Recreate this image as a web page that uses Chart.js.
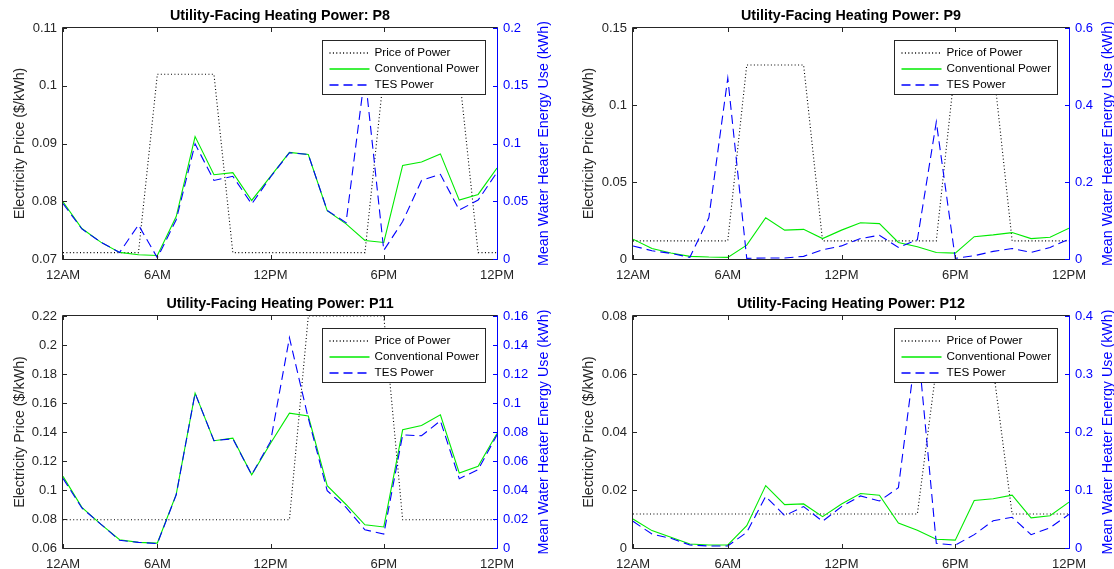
<!DOCTYPE html>
<html>
<head>
<meta charset="utf-8">
<script src="https://cdn.jsdelivr.net/npm/chart.js@4.4.0/dist/chart.umd.min.js"></script>
<style>
    body { margin: 0; background: #fff; }
    #fig { position: relative; width: 1114px; height: 569px; overflow: hidden; }
    canvas { position: absolute; }
</style>
</head>
<body>
<div id="fig">
    <canvas id="p8" width="557" height="285" style="left:0;top:0"></canvas>
    <canvas id="p9" width="557" height="285" style="left:557px;top:0"></canvas>
    <canvas id="p11" width="557" height="284" style="left:0;top:285px"></canvas>
    <canvas id="p12" width="557" height="284" style="left:557px;top:285px"></canvas>
</div>
<script>
// Hour index of each sample (1 = 12AM ... 24 = 12PM of the next half day)
const hours = [1, 2, 3, 4, 5, 6, 7, 8, 9, 10, 11, 12, 13, 14, 15, 16, 17, 18, 19, 20, 21, 22, 23, 24];
const hourTicks = [1, 6, 12, 18, 24];
const hourLabels = ['12AM', '6AM', '12PM', '6PM', '12PM'];

const seriesNames = ['Price of Power', 'Conventional Power', 'TES Power'];
const priceTitle = 'Electricity Price ($/kWh)';
const energyTitle = 'Mean Water Heater Energy Use (kWh)';

// P8
const p8Price = [0.0711, 0.0711, 0.0711, 0.0711, 0.0711, 0.102, 0.102, 0.102, 0.102, 0.0711, 0.0711, 0.0711,
    0.0711, 0.0711, 0.0711, 0.0711, 0.0711, 0.102, 0.102, 0.102, 0.102, 0.102, 0.0711, 0.0711];
const p8Conventional = [0.0496, 0.0264, 0.0146, 0.0057, 0.0037, 0.003, 0.0367, 0.106, 0.073, 0.0748, 0.0507, 0.0716,
    0.0923, 0.0905, 0.0418, 0.0304, 0.016, 0.0143, 0.081, 0.084, 0.091, 0.051, 0.0559, 0.0788];
const p8Tes = [0.048, 0.026, 0.0146, 0.0057, 0.0295, 0.001, 0.034, 0.0997, 0.068, 0.0716, 0.0476, 0.071,
    0.092, 0.0905, 0.042, 0.0315, 0.16, 0.0075, 0.0324, 0.068, 0.0733, 0.0424, 0.051, 0.075];
const p8PriceTicks = [0.07, 0.08, 0.09, 0.1, 0.11];
const p8EnergyTicks = [0, 0.05, 0.1, 0.15, 0.2];

// P9
const p9Price = [0.0118, 0.0118, 0.0118, 0.0118, 0.0118, 0.0118, 0.126, 0.126, 0.126, 0.126, 0.0118, 0.0118,
    0.0118, 0.0118, 0.0118, 0.0118, 0.0118, 0.126, 0.126, 0.126, 0.0118, 0.0118, 0.0118, 0.0118];
const p9Conventional = [0.0514, 0.0274, 0.0154, 0.0069, 0.005, 0.0043, 0.036, 0.107, 0.075, 0.077, 0.053, 0.075,
    0.094, 0.092, 0.043, 0.032, 0.017, 0.0154, 0.058, 0.0626, 0.0686, 0.053, 0.0566, 0.08];
const p9Tes = [0.034, 0.0214, 0.0146, 0.0043, 0.107, 0.47, 0.0017, 0.0026, 0.0026, 0.0069, 0.024, 0.034,
    0.053, 0.0617, 0.03, 0.05, 0.356, 0.0017, 0.0086, 0.0197, 0.0274, 0.017, 0.03, 0.0514];
const p9PriceTicks = [0, 0.05, 0.1, 0.15];
const p9EnergyTicks = [0, 0.2, 0.4, 0.6];

// P11
const p11Price = [0.0795, 0.0795, 0.0795, 0.0795, 0.0795, 0.0795, 0.0795, 0.0795, 0.0795, 0.0795, 0.0795, 0.0795,
    0.0795, 0.22, 0.22, 0.22, 0.22, 0.22, 0.0795, 0.0795, 0.0795, 0.0795, 0.0795, 0.0795];
const p11Conventional = [0.0494, 0.028, 0.0165, 0.0057, 0.0039, 0.0034, 0.037, 0.1068, 0.074, 0.0758, 0.0505, 0.0723,
    0.093, 0.091, 0.043, 0.03, 0.016, 0.0145, 0.0815, 0.0845, 0.0918, 0.0517, 0.0563, 0.079];
const p11Tes = [0.048, 0.0276, 0.0165, 0.0053, 0.0039, 0.003, 0.0367, 0.1068, 0.074, 0.0753, 0.0505, 0.0735,
    0.145, 0.0895, 0.0395, 0.028, 0.0126, 0.0096, 0.078, 0.0774, 0.0877, 0.0478, 0.054, 0.078];
const p11PriceTicks = [0.06, 0.08, 0.1, 0.12, 0.14, 0.16, 0.18, 0.2, 0.22];
const p11EnergyTicks = [0, 0.02, 0.04, 0.06, 0.08, 0.1, 0.12, 0.14, 0.16];

// P12
const p12Price = [0.0117, 0.0117, 0.0117, 0.0117, 0.0117, 0.0117, 0.0117, 0.0117, 0.0117, 0.0117, 0.0117, 0.0117,
    0.0117, 0.0117, 0.0117, 0.0117, 0.062, 0.062, 0.062, 0.062, 0.0117, 0.0117, 0.0117, 0.0117];
const p12Conventional = [0.05, 0.03, 0.0184, 0.0069, 0.0052, 0.0052, 0.0386, 0.1076, 0.0748, 0.076, 0.054, 0.076,
    0.094, 0.091, 0.043, 0.0306, 0.015, 0.0135, 0.082, 0.085, 0.091, 0.052, 0.0555, 0.079];
const p12Tes = [0.046, 0.024, 0.0167, 0.0052, 0.0035, 0.0035, 0.027, 0.089, 0.0558, 0.0714, 0.046, 0.0714,
    0.0898, 0.081, 0.104, 0.36, 0.008, 0.005, 0.023, 0.047, 0.053, 0.023, 0.035, 0.058];
const p12PriceTicks = [0, 0.02, 0.04, 0.06, 0.08];
const p12EnergyTicks = [0, 0.1, 0.2, 0.3, 0.4];

const FONT = "'Liberation Sans', Arial, Helvetica, sans-serif";
const AXIS_GRAY = '#262626';
const BLUE = '#0000ff';
const seriesColors = ['#000000', '#00eb00', BLUE];
const seriesDashes = [[1, 2.4], [], [9, 5]];

// space around each plot box (canvas px) and axis-title positions
const panels = [
    { id: 'p8', title: 'Utility-Facing Heating Power: P8', price: p8Price, conventional: p8Conventional, tes: p8Tes,
      priceTicks: p8PriceTicks, energyTicks: p8EnergyTicks, box: { left: 63, right: 60, top: 28, bottom: 26 }, leftTitleX: 20, rightTitleX: 544 },
    { id: 'p9', title: 'Utility-Facing Heating Power: P9', price: p9Price, conventional: p9Conventional, tes: p9Tes,
      priceTicks: p9PriceTicks, energyTicks: p9EnergyTicks, box: { left: 76, right: 45, top: 28, bottom: 26 }, leftTitleX: 32, rightTitleX: 551 },
    { id: 'p11', title: 'Utility-Facing Heating Power: P11', price: p11Price, conventional: p11Conventional, tes: p11Tes,
      priceTicks: p11PriceTicks, energyTicks: p11EnergyTicks, box: { left: 63, right: 60, top: 31, bottom: 21 }, leftTitleX: 20, rightTitleX: 544 },
    { id: 'p12', title: 'Utility-Facing Heating Power: P12', price: p12Price, conventional: p12Conventional, tes: p12Tes,
      priceTicks: p12PriceTicks, energyTicks: p12EnergyTicks, box: { left: 76, right: 45, top: 31, bottom: 21 }, leftTitleX: 32, rightTitleX: 551 }
];

const fmt = v => String(Number(v.toFixed(4)));
const toPoints = arr => hours.map((h, i) => ({ x: h, y: arr[i] }));

// Box, inward ticks, titles and the boxed legend (MATLAB look)
function framePlugin(p) {
    return {
        id: 'frame' + p.id,
        afterDatasetsDraw(chart) {
            const { ctx, chartArea: a, scales } = chart;
            const L = a.left - 0.5, R = a.right + 0.5, T = a.top - 0.5, B = a.bottom + 0.5;
            const tick = 4.5;
            ctx.save();
            ctx.lineWidth = 1;
            ctx.setLineDash([]);

            ctx.strokeStyle = AXIS_GRAY;
            ctx.beginPath();
            ctx.moveTo(R, T); ctx.lineTo(L, T); ctx.lineTo(L, B); ctx.lineTo(R, B);
            hourTicks.forEach(h => {
                const x = Math.round(scales.x.getPixelForValue(h)) + 0.5;
                ctx.moveTo(x, B); ctx.lineTo(x, B - tick);
                ctx.moveTo(x, T); ctx.lineTo(x, T + tick);
            });
            p.priceTicks.forEach(v => {
                const y = Math.round(scales.y.getPixelForValue(v)) + 0.5;
                ctx.moveTo(L, y); ctx.lineTo(L + tick, y);
            });
            ctx.stroke();

            ctx.strokeStyle = BLUE;
            ctx.beginPath();
            ctx.moveTo(R, T); ctx.lineTo(R, B);
            p.energyTicks.forEach(v => {
                const y = Math.round(scales.y1.getPixelForValue(v)) + 0.5;
                ctx.moveTo(R, y); ctx.lineTo(R - tick, y);
            });
            ctx.stroke();

            // title
            ctx.fillStyle = '#000';
            ctx.font = 'bold 14.3px ' + FONT;
            ctx.textAlign = 'center';
            ctx.textBaseline = 'middle';
            ctx.fillText(p.title, (a.left + a.right) / 2, a.top - 12);

            // axis titles, both reading bottom to top
            const midY = (a.top + a.bottom) / 2;
            ctx.font = '14.3px ' + FONT;
            [[p.leftTitleX, priceTitle, AXIS_GRAY], [p.rightTitleX, energyTitle, BLUE]].forEach(([x, text, color]) => {
                ctx.save();
                ctx.translate(x, midY);
                ctx.rotate(-Math.PI / 2);
                ctx.fillStyle = color;
                ctx.fillText(text, 0, 0);
                ctx.restore();
            });

            // legend
            const w = 163, h = 54;
            const lx = Math.round(a.right - 12 - w) + 0.5, ly = Math.round(a.top + 12) + 0.5;
            ctx.fillStyle = '#fff';
            ctx.fillRect(lx, ly, w, h);
            ctx.strokeStyle = AXIS_GRAY;
            ctx.strokeRect(lx, ly, w, h);
            ctx.font = '11.7px ' + FONT;
            ctx.textAlign = 'left';
            seriesNames.forEach((name, i) => {
                const y = Math.round(ly + 12 + i * 16);
                ctx.save();
                ctx.lineWidth = 1.6;
                ctx.strokeStyle = seriesColors[i];
                ctx.setLineDash(seriesDashes[i]);
                ctx.beginPath();
                ctx.moveTo(lx + 7, y); ctx.lineTo(lx + 47, y);
                ctx.stroke();
                ctx.restore();
                ctx.fillStyle = '#000';
                ctx.fillText(name, lx + 52, y);
            });
            ctx.restore();
        }
    };
}

function makeChart(p) {
    const tickFont = { family: FONT, size: 13 };
    const series = [p.price, p.conventional, p.tes];
    return new Chart(document.getElementById(p.id), {
        type: 'line',
        data: {
            datasets: series.map((values, i) => ({
                label: seriesNames[i],
                data: toPoints(values),
                yAxisID: i === 0 ? 'y' : 'y1',
                order: 3 - i,
                borderColor: seriesColors[i],
                borderDash: seriesDashes[i],
                borderWidth: 1.1
            }))
        },
        options: {
            responsive: false,
            animation: false,
            events: [],
            layout: { padding: { top: p.box.top, left: 0, right: 0, bottom: 0 } },
            elements: { point: { radius: 0 }, line: { tension: 0 } },
            plugins: { legend: { display: false }, tooltip: { enabled: false }, title: { display: false } },
            scales: {
                x: {
                    type: 'linear', min: 1, max: 24,
                    grid: { display: false, drawTicks: false }, border: { display: false },
                    afterBuildTicks: s => { s.ticks = hourTicks.map(v => ({ value: v })); },
                    afterFit: s => { s.height = p.box.bottom; },
                    ticks: { padding: 9, autoSkip: false, maxRotation: 0, color: AXIS_GRAY, font: tickFont,
                        callback: v => hourLabels[hourTicks.indexOf(v)] }
                },
                y: {
                    position: 'left',
                    min: p.priceTicks[0], max: p.priceTicks[p.priceTicks.length - 1],
                    grid: { display: false, drawTicks: false }, border: { display: false },
                    afterBuildTicks: s => { s.ticks = p.priceTicks.map(v => ({ value: v })); },
                    afterFit: s => { s.width = p.box.left; },
                    ticks: { padding: 6, autoSkip: false, color: AXIS_GRAY, font: tickFont, callback: fmt }
                },
                y1: {
                    position: 'right',
                    min: p.energyTicks[0], max: p.energyTicks[p.energyTicks.length - 1],
                    grid: { display: false, drawTicks: false }, border: { display: false },
                    afterBuildTicks: s => { s.ticks = p.energyTicks.map(v => ({ value: v })); },
                    afterFit: s => { s.width = p.box.right; },
                    ticks: { padding: 6, autoSkip: false, color: BLUE, font: tickFont, callback: fmt }
                }
            }
        },
        plugins: [framePlugin(p)]
    });
}

panels.forEach(makeChart);
</script>
</body>
</html>
